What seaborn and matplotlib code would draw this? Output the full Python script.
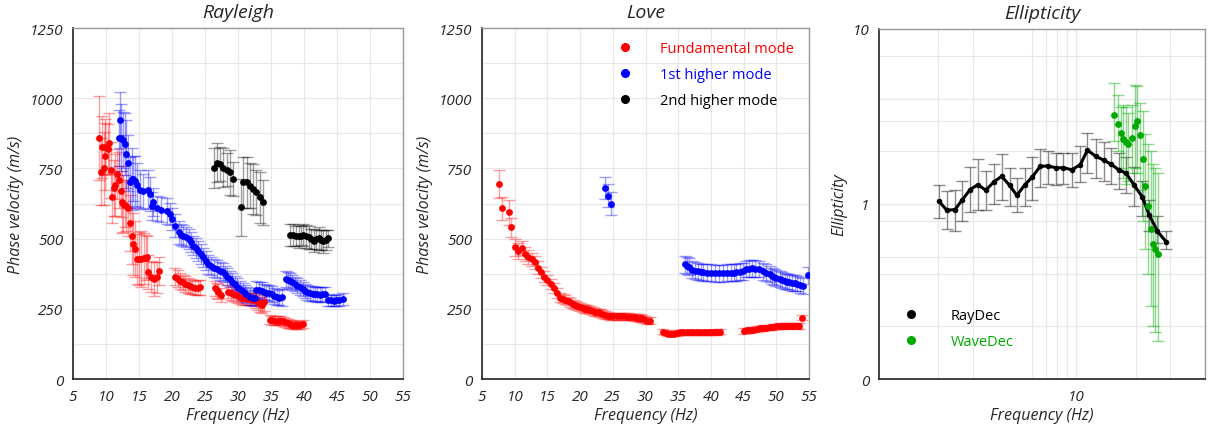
import numpy as np
import pandas as pd
import matplotlib
matplotlib.use("Agg")
import matplotlib.pyplot as plt
from matplotlib.ticker import FixedLocator, FixedFormatter, NullFormatter
from matplotlib.lines import Line2D
import seaborn as sns

# ---------------- DATA ----------------
# Rayleigh, fundamental mode
R0_f = [9.0, 9.2, 9.4, 9.7, 9.9, 9.9, 10.3, 10.5, 10.8, 10.9, 11.2, 11.4, 11.7, 11.9, 12.2, 12.4, 12.6, 12.9, 13.1, 13.3,
        13.6, 13.9, 14.1, 14.4, 14.7, 15.0, 15.3, 15.7, 16.0, 16.2, 16.4, 16.8, 17.2, 17.7, 18.1,
        20.5, 20.9, 21.2, 21.6, 22.0, 22.4, 22.7, 23.1, 23.5, 23.9, 24.2,
        26.5, 26.8, 27.0, 27.4,
        28.5, 28.9, 29.3, 29.7, 30.0, 30.4, 30.8, 31.2, 31.6, 32.0, 32.3, 32.7, 33.1, 33.4, 33.6, 33.9,
        34.8, 35.2, 35.6, 36.0, 36.4, 36.8, 37.1, 37.5, 37.9, 38.2, 38.6, 39.0, 39.4, 39.9]
R0_v = [857, 738, 827, 750, 827, 793, 819, 839, 744, 647, 680, 691, 730, 709, 668, 631, 625, 620, 617, 610,
        556, 510, 481, 463, 427, 428, 428, 430, 432, 433, 382, 365, 356, 362, 386,
        365, 357, 350, 344, 338, 333, 330, 327, 324, 325, 326,
        323, 316, 311, 299,
        311, 307, 303, 298, 294, 290, 287, 286, 285, 284, 283, 278, 273, 266, 263, 273,
        211, 210, 208, 208, 208, 205, 202, 199, 196, 194, 192, 192, 192, 196]
R0_e = [150, 120, 110, 130, 100, 120, 90, 110, 100, 90, 100, 110, 90, 100, 90, 110, 100, 80, 90, 100,
        100, 100, 110, 100, 90, 95, 100, 90, 80, 75, 60, 55, 60, 55, 50,
        30, 30, 28, 28, 28, 26, 26, 26, 26, 26, 26,
        26, 26, 26, 26,
        24, 24, 24, 24, 22, 22, 22, 22, 22, 22, 22, 24, 26, 26, 28, 30,
        16, 16, 16, 16, 16, 16, 16, 16, 15, 15, 15, 15, 15, 15]

# Rayleigh, 1st higher mode
R1_f = [11.9, 12.1, 12.3, 12.6, 12.9, 13.1, 13.4, 13.6, 13.9, 14.1, 14.4, 14.7, 15.1, 15.6, 16.3, 16.7, 16.9, 17.1, 17.7, 18.4,
        19.2, 19.7, 20.0, 20.5, 21.0, 21.4, 21.7, 22.1, 22.5, 22.9, 23.2, 23.6, 24.0, 24.4, 24.7, 25.1, 25.5, 25.9, 26.3, 26.8,
        27.3, 27.7, 28.0, 28.4, 28.8, 29.1, 29.5, 29.9, 30.3, 30.7, 31.1, 31.4, 31.8, 32.2, 32.6,
        32.8, 33.2, 33.6, 33.9, 34.3, 34.7, 35.1, 35.5, 35.9, 36.2, 36.6,
        37.3, 37.6, 37.9, 38.2, 38.6, 39.0, 39.4, 39.8, 40.2, 40.5, 40.9, 41.3, 41.7, 42.0, 42.4, 42.8, 43.2,
        43.7, 44.1, 44.5, 44.9, 45.3, 45.9]
R1_v = [858, 923, 860, 852, 837, 801, 769, 700, 712, 714, 705, 691, 674, 670, 674, 659, 617, 629, 608, 603,
        598, 588, 570, 546, 522, 514, 510, 505, 499, 487, 475, 466, 457, 445, 433, 421, 409, 403, 397, 392,
        386, 380, 374, 365, 356, 347, 338, 329, 320, 312, 305, 299, 293, 290, 287,
        318, 316, 314, 311, 308, 305, 302, 296, 291, 290, 291,
        356, 353, 350, 344, 338, 332, 326, 320, 314, 309, 305, 304, 303, 301, 300, 301, 303,
        281, 280, 279, 280, 281, 285]
R1_e = [100, 100, 120, 100, 110, 120, 100, 90, 110, 80, 90, 80, 70, 60, 70, 60, 50, 50, 45, 45,
        45, 40, 40, 40, 40, 38, 38, 36, 36, 36, 35, 35, 35, 34, 34, 34, 34, 32, 32, 32,
        32, 32, 30, 30, 30, 30, 30, 30, 30, 30, 30, 30, 30, 28, 28,
        30, 30, 30, 28, 28, 28, 28, 28, 28, 28, 30,
        30, 28, 28, 28, 26, 26, 26, 26, 26, 26, 26, 26, 26, 26, 26, 26, 26,
        20, 20, 20, 20, 20, 20]

# Rayleigh, 2nd higher mode
R2_f = [26.4, 26.8, 27.3, 27.8, 28.3, 28.8, 29.3, 30.5, 30.8, 31.3, 31.8, 32.3, 32.8, 33.3, 33.8,
        37.9, 38.4, 38.8, 39.2, 39.6, 39.9, 40.3, 40.7, 41.1, 41.5, 41.8, 42.2, 42.6, 42.9, 43.3, 43.7]
R2_v = [751, 771, 765, 753, 746, 736, 712, 611, 700, 700, 688, 676, 665, 647, 629,
        513, 513, 510, 508, 511, 513, 508, 504, 498, 493, 497, 501, 495, 490, 495, 501]
R2_e = [70, 70, 60, 70, 60, 80, 60, 100, 90, 90, 80, 90, 80, 90, 80,
        40, 40, 35, 40, 35, 40, 40, 40, 35, 40, 35, 40, 35, 40, 35, 30]

# Love, fundamental mode
L0_f = [7.6, 8.1, 9.1, 9.5, 10.0, 10.5, 11.1, 11.6, 12.1, 12.6, 13.1, 13.6, 14.0, 14.5, 15.0, 15.5, 16.0, 16.5, 17.0, 17.4,
        17.7, 18.1, 18.5, 18.9, 19.2, 19.6, 20.0, 20.4, 20.8, 21.1, 21.5, 21.9, 22.3, 22.7, 23.0, 23.4, 23.8, 24.2, 24.6, 25.1,
        25.6, 26.1, 26.6, 27.1, 27.7, 28.2, 28.7, 29.1, 29.4, 29.8, 30.2, 30.7,
        32.7, 33.1, 33.5, 33.9, 34.3, 34.8, 35.3, 35.8, 36.3, 36.8, 37.3, 37.8, 38.4, 38.9, 39.4, 39.9, 40.4, 40.9, 41.4,
        45.0, 45.5, 46.0, 46.5, 47.0, 47.5, 48.0, 48.5, 49.0, 49.5, 50.0, 50.5, 51.1, 51.6, 52.1, 52.6, 53.1, 53.4, 53.9]
L0_v = [694, 608, 593, 540, 469, 457, 465, 445, 433, 426, 415, 397, 380, 365, 354, 338, 323, 306, 290, 286,
        282, 277, 273, 268, 263, 259, 255, 252, 250, 248, 246, 243, 240, 237, 235, 231, 228, 225, 223, 223,
        223, 223, 223, 222, 222, 220, 219, 217, 216, 212, 208, 208,
        169, 165, 162, 162, 162, 164, 166, 166, 166, 166, 166, 166, 166, 166, 166, 166, 166, 167, 169,
        172, 173, 174, 176, 178, 180, 182, 183, 184, 186, 187, 188, 188, 189, 190, 190, 189, 188, 219]
L0_e = [50, 40, 45, 35, 30, 28, 25, 25, 25, 22, 22, 22, 20, 20, 18, 18, 18, 18, 16, 16,
        16, 15, 15, 15, 15, 15, 14, 14, 14, 14, 14, 14, 14, 14, 14, 14, 14, 13, 13, 13,
        13, 13, 13, 13, 13, 13, 13, 13, 13, 13, 12, 12,
        10, 10, 10, 10, 10, 10, 10, 10, 10, 10, 10, 10, 10, 10, 10, 10, 10, 10, 10,
        10, 10, 10, 10, 10, 10, 10, 10, 10, 10, 10, 10, 10, 10, 10, 10, 10, 10, 10]

# Love, 1st higher mode
L1_f = [23.8, 24.3, 24.8,
        36.0, 36.3, 36.6, 37.1, 37.6, 38.1, 38.5, 38.8, 39.4, 40.0, 40.6, 41.2, 41.8, 42.4, 43.0, 43.5, 43.9, 44.4,
        44.9, 45.4, 45.9, 46.3, 46.8, 47.3, 48.0, 48.5, 49.0, 49.4, 49.7, 50.0, 50.5, 50.9, 51.3, 51.6, 52.0, 52.4,
        52.8, 53.1, 53.6, 54.1, 54.9]
L1_v = [680, 653, 625,
        409, 404, 400, 389, 386, 384, 381, 380, 379, 378, 377, 377, 377, 378, 378, 379, 380, 382,
        384, 392, 393, 394, 393, 392, 384, 378, 373, 368, 363, 359, 356, 353, 350, 347, 345, 343,
        341, 340, 336, 332, 370]
L1_e = [40, 40, 40,
        30, 30, 30, 30, 30, 30, 30, 30, 30, 30, 30, 30, 30, 30, 30, 30, 30, 30,
        30, 30, 30, 30, 30, 30, 30, 30, 28, 28, 28, 28, 28, 28, 28, 28, 28, 28,
        28, 28, 28, 28, 30]

# Ellipticity, RayDec
E_f = [2.01, 2.21, 2.43, 2.65, 2.90, 3.17, 3.48, 3.83, 4.19, 4.59, 5.00, 5.47, 6.00, 6.56, 7.17, 7.90, 8.60, 9.52,
       10.5, 11.4, 12.6, 13.8, 15.0, 16.4, 17.9, 19.7, 21.6, 23.5, 25.8, 28.5]
E_v = [1.04, 0.92, 0.93, 1.06, 1.21, 1.29, 1.20, 1.34, 1.44, 1.28, 1.12, 1.28, 1.43, 1.64, 1.65, 1.61, 1.61, 1.57,
       1.68, 2.03, 1.87, 1.78, 1.69, 1.57, 1.50, 1.28, 1.10, 0.86, 0.70, 0.61]
E_lo = [0.83, 0.72, 0.70, 0.80, 0.90, 0.92, 0.92, 1.00, 1.06, 0.98, 0.90, 0.98, 1.06, 1.25, 1.30, 1.28, 1.30, 1.25,
        1.33, 1.50, 1.40, 1.35, 1.30, 1.22, 1.15, 0.98, 0.85, 0.70, 0.60, 0.55]
E_hi = [1.28, 1.18, 1.20, 1.35, 1.62, 1.80, 1.55, 1.70, 1.92, 1.60, 1.40, 1.60, 1.85, 2.05, 2.00, 1.95, 1.95, 1.95,
        2.15, 2.55, 2.35, 2.25, 2.10, 1.95, 1.85, 1.62, 1.35, 1.05, 0.85, 0.70]

# Ellipticity, WaveDec
W_f = [15.6, 16.2, 16.8, 17.3, 17.8, 18.4, 19.1, 19.8, 20.4, 21.0, 21.7, 22.4, 23.2, 23.9, 24.6, 25.2, 26.0]
W_v = [3.24, 2.88, 2.56, 2.34, 2.26, 2.19, 2.39, 2.78, 2.97, 2.49, 1.80, 1.27, 0.97, 0.72, 0.59, 0.55, 0.52]
W_lo = [2.3, 2.0, 1.6, 1.4, 1.3, 1.35, 1.5, 1.6, 1.5, 1.2, 0.8, 0.55, 0.40, 0.26, 0.20, 0.185, 0.165]
W_hi = [4.94, 4.2, 3.6, 3.7, 3.6, 3.3, 3.7, 4.8, 4.7, 3.8, 3.4, 2.5, 2.2, 2.0, 1.7, 1.6, 1.5]

titles = ["Rayleigh", "Love", "Ellipticity"]
mode_labels = ["Fundamental mode", "1st higher mode", "2nd higher mode"]
ell_labels = ["RayDec", "WaveDec"]
v_ticks = [0, 250, 500, 750, 1000, 1250]
f_ticks = [5, 10, 15, 20, 25, 30, 35, 40, 45, 50, 55]
ell_ticks = [0.1, 1, 10]
ell_tick_labels = ["0", "1", "10"]

# ---------------- STYLE ----------------
sns.set_style("white")
plt.rcParams['font.family'] = ['Open Sans', 'DejaVu Sans']
RED, BLUE, BLACK, GREEN = "#ff0000", "#0000ff", "#000000", "#00aa00"
GRID = "#e8e8e8"

fig = plt.figure(figsize=(12.14, 4.35), dpi=100)
axes = [fig.add_axes([73/1214, 1-380/435, 330/1214, 351/435]),
        fig.add_axes([482/1214, 1-380/435, 327/1214, 351/435]),
        fig.add_axes([879/1214, 1-380/435, 326/1214, 350/435])]

def style_axis(ax):
    for s in ["left", "bottom"]:
        ax.spines[s].set_color("#222222")
        ax.spines[s].set_linewidth(1.2)
    for s in ["top", "right"]:
        ax.spines[s].set_color("#999999")
        ax.spines[s].set_linewidth(1.0)
    ax.tick_params(axis="both", which="major", direction="out", length=5, width=1, color="#222222",
                   labelsize=11, pad=2)
    ax.tick_params(axis="both", which="minor", direction="out", length=3, width=1, color="#222222")
    for lab in ax.get_xticklabels() + ax.get_yticklabels():
        lab.set_fontstyle("italic")

def draw_series(ax, f, v, e, color):
    ax.errorbar(f, v, yerr=e, fmt="none", ecolor=color, elinewidth=1.0, capsize=4, capthick=1.0, alpha=0.38, zorder=2)
    df = pd.DataFrame({"f": f, "v": v})
    sns.scatterplot(data=df, x="f", y="v", color=color, s=24, linewidth=0, ax=ax, zorder=3)

# Dispersion panels
panel_data = [
    [(R0_f, R0_v, R0_e, RED), (R1_f, R1_v, R1_e, BLUE), (R2_f, R2_v, R2_e, BLACK)],
    [(L0_f, L0_v, L0_e, RED), (L1_f, L1_v, L1_e, BLUE)],
]
for ax, series, title in zip(axes[:2], panel_data, titles[:2]):
    for f, v, e, c in series:
        draw_series(ax, f, v, e, c)
    ax.set_xlim(5, 55)
    ax.set_ylim(0, 1250)
    ax.xaxis.set_major_locator(FixedLocator(f_ticks))
    ax.yaxis.set_major_locator(FixedLocator(v_ticks))
    ax.yaxis.set_minor_locator(FixedLocator([125, 375, 625, 875, 1125]))
    ax.grid(True, which="major", color=GRID, linewidth=0.9, zorder=0)
    ax.grid(True, which="minor", axis="y", color=GRID, linewidth=0.9, zorder=0)
    ax.set_axisbelow(True)
    ax.set_xlabel("Frequency (Hz)", fontsize=11.5, fontstyle="italic", labelpad=2)
    ax.set_ylabel("Phase velocity (m/s)", fontsize=11.5, fontstyle="italic", labelpad=4)
    ax.set_title(title, fontsize=14, fontstyle="italic", pad=8)
    style_axis(ax)

# Legend in Love panel
handles = [Line2D([0], [0], marker="o", linestyle="none", color=c, markersize=5.5) for c in (RED, BLUE, BLACK)]
axes[1].legend(handles, mode_labels, loc="upper left", bbox_to_anchor=(0.352, 1.0), frameon=False,
               fontsize=10.5, handletextpad=1.4, labelspacing=0.75, labelcolor=[RED, BLUE, BLACK])

# Ellipticity panel
ax = axes[2]
ax.set_xscale("log")
ax.set_yscale("log")
E_err = [np.array(E_v) - np.array(E_lo), np.array(E_hi) - np.array(E_v)]
W_err = [np.array(W_v) - np.array(W_lo), np.array(W_hi) - np.array(W_v)]
ax.errorbar(E_f, E_v, yerr=E_err, fmt="none", ecolor=BLACK, elinewidth=1.0, capsize=4, capthick=1.0, alpha=0.45, zorder=2)
ax.errorbar(W_f, W_v, yerr=W_err, fmt="none", ecolor=GREEN, elinewidth=1.0, capsize=4, capthick=1.0, alpha=0.45, zorder=2)
dfE = pd.DataFrame({"f": E_f, "e": E_v})
dfW = pd.DataFrame({"f": W_f, "e": W_v})
sns.lineplot(data=dfE, x="f", y="e", color=BLACK, linewidth=2.2, ax=ax, zorder=3, sort=True)
sns.scatterplot(data=dfE, x="f", y="e", color=BLACK, s=16, linewidth=0, ax=ax, zorder=4)
sns.scatterplot(data=dfW, x="f", y="e", color=GREEN, s=24, linewidth=0, ax=ax, zorder=4)
ax.set_xlim(1, 45)
ax.set_ylim(0.1, 10)
ax.xaxis.set_major_locator(FixedLocator([10]))
ax.xaxis.set_major_formatter(FixedFormatter(["10"]))
ax.xaxis.set_minor_locator(FixedLocator([2, 3, 6, 7, 8, 9, 20, 30]))
ax.xaxis.set_minor_formatter(NullFormatter())
ax.yaxis.set_major_locator(FixedLocator(ell_ticks))
ax.yaxis.set_major_formatter(FixedFormatter(ell_tick_labels))
ax.yaxis.set_minor_locator(FixedLocator([0.2, 0.4, 0.5, 0.8, 2, 3, 4, 7]))
ax.yaxis.set_minor_formatter(NullFormatter())
ax.grid(True, which="both", color=GRID, linewidth=0.9, zorder=0)
ax.set_axisbelow(True)
ax.set_xlabel("Frequency (Hz)", fontsize=11.5, fontstyle="italic", labelpad=2)
ax.set_ylabel("Ellipticity", fontsize=11.5, fontstyle="italic", labelpad=4)
ax.set_title(titles[2], fontsize=14, fontstyle="italic", pad=8)
style_axis(ax)
ax.tick_params(axis="x", which="minor", length=5)

handles2 = [Line2D([0], [0], marker="o", linestyle="none", color=c, markersize=5.5) for c in (BLACK, GREEN)]
ax.legend(handles2, ell_labels, loc="lower left", bbox_to_anchor=(0.013, 0.049), frameon=False,
          fontsize=10.5, handletextpad=1.7, labelspacing=0.75, labelcolor=[BLACK, GREEN])

fig.savefig("out.png", dpi=100)
